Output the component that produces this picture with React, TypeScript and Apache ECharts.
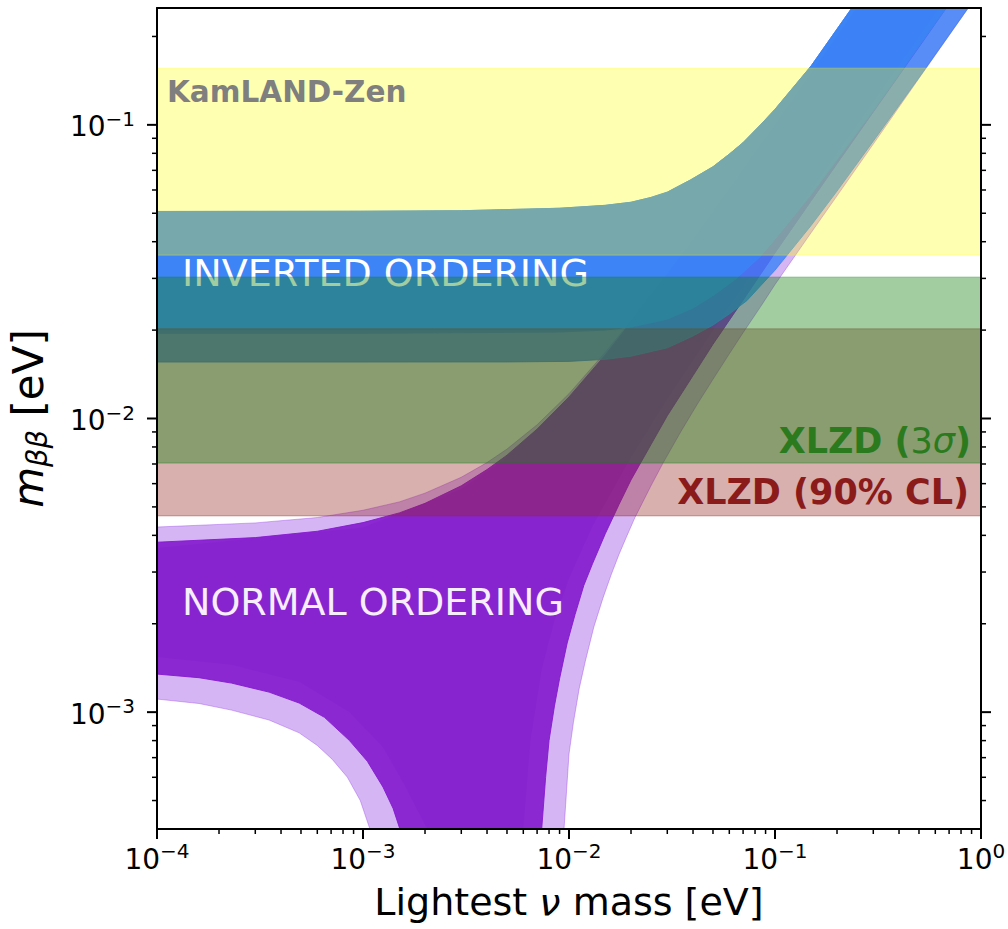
import React, { useEffect, useRef } from 'react';
import * as echarts from 'echarts';

const FONT = '"DejaVu Sans", "Liberation Sans", Arial, sans-serif';

// Axis limits (eV)
const X_MIN = 1e-4;
const X_MAX = 1;
const Y_MIN = 4e-4;
const Y_MAX = 0.25;
// m_bb value below the visible range, used where a band falls to zero (cancellation region)
const BELOW = 1e-4;

type Pt = [number, number];

// Tick positions
const X_MAJOR = [1e-4, 1e-3, 1e-2, 1e-1, 1];
const Y_MAJOR = [1e-3, 1e-2, 1e-1];
const MINOR_MULT = [2, 3, 4, 5, 6, 7, 8, 9];
const X_MINOR_DECADES = [1e-4, 1e-3, 1e-2, 1e-1];
const Y_MINOR_DECADES = [1e-4, 1e-3, 1e-2, 1e-1];

// Normal ordering, 3 sigma envelope: [lightest mass, m_bb] in eV
const NO_3S_UPPER: Pt[] = [
  [1e-4, 4.27e-3], [3e-4, 4.41e-3], [6e-4, 4.6e-3], [1e-3, 4.87e-3], [1.5e-3, 5.2e-3],
  [2e-3, 5.57e-3], [3e-3, 6.31e-3], [4e-3, 7.08e-3], [5e-3, 7.87e-3], [7e-3, 9.52e-3],
  [1e-2, 1.215e-2], [1.5e-2, 1.68e-2], [2e-2, 2.15e-2], [3e-2, 3.11e-2], [4e-2, 4.09e-2],
  [5e-2, 5.08e-2], [7e-2, 7.06e-2], [0.1, 0.1002], [0.2, 0.2], [1, 1],
];
const NO_3S_LOWER: Pt[] = [
  [1e-4, 1.108e-3], [1.6e-4, 1.07e-3], [2.3e-4, 1.016e-3], [3.5e-4, 9.4e-4], [4.9e-4, 8.5e-4],
  [6e-4, 7.7e-4], [7.1e-4, 6.9e-4], [8.4e-4, 6.0e-4], [9.7e-4, 5.0e-4], [1.08e-3, 4.0e-4],
  [1.4e-3, BELOW], [9.15e-3, BELOW], [9.46e-3, 4.0e-4], [1.0e-2, 7.2e-4], [1.05e-2, 9.2e-4],
  [1.12e-2, 1.2e-3], [1.2e-2, 1.49e-3], [1.32e-2, 1.95e-3], [1.46e-2, 2.44e-3], [1.6e-2, 2.93e-3],
  [1.75e-2, 3.45e-3], [1.9e-2, 3.95e-3], [2.09e-2, 4.6e-3], [2.5e-2, 5.9e-3], [2.86e-2, 7.05e-3],
  [3.5e-2, 9.05e-3], [4.2e-2, 1.12e-2], [5e-2, 1.36e-2], [6e-2, 1.66e-2], [7e-2, 1.96e-2],
  [8.5e-2, 2.4e-2], [0.1, 2.86e-2], [0.15, 4.3e-2], [0.2, 5.73e-2], [0.3, 8.6e-2],
  [0.5, 0.144], [1, 0.288],
];

// Normal ordering, 2 sigma band
const NO_2S_UPPER: Pt[] = [
  [1e-4, 3.79e-3], [3e-4, 3.93e-3], [6e-4, 4.13e-3], [1e-3, 4.42e-3], [1.5e-3, 4.77e-3],
  [2e-3, 5.14e-3], [3e-3, 5.9e-3], [4e-3, 6.7e-3], [5e-3, 7.5e-3], [7e-3, 9.2e-3],
  [1e-2, 1.184e-2], [1.5e-2, 1.646e-2], [2e-2, 2.128e-2], [3e-2, 3.097e-2], [4e-2, 4.08e-2],
  [5e-2, 5.054e-2], [7e-2, 7.05e-2], [0.1, 0.1003], [0.2, 0.2], [1, 1],
];
const NO_2S_LOWER: Pt[] = [
  [1e-4, 1.348e-3], [1.6e-4, 1.31e-3], [2.3e-4, 1.256e-3], [3.5e-4, 1.17e-3], [4.9e-4, 1.074e-3],
  [6.5e-4, 9.6e-4], [8.6e-4, 8.0e-4], [1.05e-3, 6.8e-4], [1.25e-3, 5.56e-4], [1.4e-3, 4.7e-4],
  [1.51e-3, 4.0e-4], [1.8e-3, BELOW], [6.9e-3, BELOW], [7.37e-3, 4.0e-4], [7.7e-3, 6.0e-4],
  [8e-3, 8.0e-4], [8.5e-3, 1.05e-3], [9e-3, 1.3e-3], [9.8e-3, 1.72e-3], [1.07e-2, 2.15e-3],
  [1.18e-2, 2.7e-3], [1.3e-2, 3.2e-3], [1.5e-2, 4.05e-3], [1.75e-2, 5.1e-3], [2e-2, 6.18e-3],
  [2.5e-2, 8.15e-3], [3e-2, 1.022e-2], [4e-2, 1.4e-2], [5e-2, 1.791e-2], [7e-2, 2.53e-2],
  [0.1, 3.664e-2], [0.15, 5.52e-2], [0.2, 7.37e-2], [0.3, 0.1106], [0.5, 0.184], [1, 0.369],
];

// Normal ordering, 1 sigma band (faint core inside the 2 sigma band)
const NO_1S_UPPER: Pt[] = [
  [1e-4, 3.62e-3], [1e-3, 4.25e-3], [3e-3, 5.75e-3], [5e-3, 7.35e-3], [1e-2, 1.17e-2],
  [2e-2, 2.11e-2], [3e-2, 3.08e-2], [0.1, 0.1], [1, 1],
];
const NO_1S_LOWER: Pt[] = [
  [1e-4, 1.54e-3], [2.3e-4, 1.45e-3], [4.9e-4, 1.27e-3], [8.6e-4, 1.0e-3], [1.25e-3, 7.6e-4],
  [1.6e-3, 5.6e-4], [2.05e-3, 4.0e-4], [2.4e-3, BELOW], [5.6e-3, BELOW], [6.0e-3, 4.0e-4],
  [6.5e-3, 8.0e-4], [7.37e-3, 1.4e-3], [8.5e-3, 2.05e-3], [1e-2, 2.85e-3], [1.3e-2, 4.3e-3],
  [2e-2, 7.4e-3], [3e-2, 1.17e-2], [5e-2, 2.0e-2], [0.1, 4.0e-2], [0.2, 8.0e-2], [1, 0.4],
];

// Inverted ordering, 3 sigma envelope
const IO_UPPER: Pt[] = [
  [1e-4, 5.07e-2], [1e-3, 5.08e-2], [3e-3, 5.1e-2], [9e-3, 5.2e-2], [1.5e-2, 5.32e-2],
  [2e-2, 5.45e-2], [2.5e-2, 5.66e-2], [3e-2, 5.9e-2], [3.9e-2, 6.5e-2], [5e-2, 7.2e-2],
  [6e-2, 7.95e-2], [7e-2, 8.7e-2], [8.5e-2, 0.1], [0.1, 0.113], [0.15, 0.159],
  [0.236, 0.25], [0.5, 0.505], [1, 1],
];
const IO_3S_LOWER: Pt[] = [
  [1e-4, 1.557e-2], [1e-3, 1.557e-2], [5e-3, 1.558e-2], [1e-2, 1.565e-2], [1.5e-2, 1.59e-2],
  [2e-2, 1.63e-2], [3e-2, 1.74e-2], [4e-2, 1.91e-2], [5e-2, 2.08e-2], [6e-2, 2.27e-2],
  [7.3e-2, 2.52e-2], [0.1, 3.2e-2], [0.15, 4.55e-2], [0.2, 5.95e-2], [0.3, 8.8e-2],
  [0.5, 0.1448], [0.865, 0.25], [1, 0.2887],
];
// Inverted ordering, 1 sigma lower edge
const IO_1S_LOWER: Pt[] = [
  [1e-4, 1.95e-2], [1e-3, 1.95e-2], [9e-3, 1.97e-2], [1.5e-2, 2.0e-2], [2e-2, 2.05e-2],
  [3e-2, 2.18e-2], [4e-2, 2.38e-2], [5e-2, 2.62e-2], [6.5e-2, 3.0e-2], [8.45e-2, 3.55e-2],
  [0.1, 4.08e-2], [0.15, 5.8e-2], [0.2, 7.61e-2], [0.3, 0.112], [0.5, 0.1856], [1, 0.369],
];

// Experimental ranges of m_bb [low, high] in eV
const KAMLAND_ZEN: [number, number] = [0.036, 0.156];
const XLZD_90CL: [number, number] = [0.00466, 0.0202];
const XLZD_3SIGMA: [number, number] = [0.00705, 0.0303];

const MINUS = '\u2212';

function powLabel(v: number): string {
  const l = Math.log10(v);
  const e = Math.round(l);
  if (Math.abs(l - e) > 1e-6) return '';
  return `{b|10}{s|${e < 0 ? MINUS + String(-e) : String(e)}}`;
}

const TICK_RICH = {
  b: { fontSize: 28, fontFamily: FONT, color: '#000', lineHeight: 32, verticalAlign: 'bottom' },
  s: { fontSize: 20, fontFamily: FONT, color: '#000', lineHeight: 22, verticalAlign: 'top' },
};

function bandSeries(name: string, upper: Pt[], lower: Pt[], fill: string, z: number, edge = true) {
  return {
    type: 'custom',
    name,
    coordinateSystem: 'cartesian2d',
    xAxisIndex: 0,
    yAxisIndex: 0,
    clip: true,
    silent: true,
    z,
    data: [[1e-2, 1e-2]],
    encode: { x: 0, y: 1 },
    renderItem: (_params: any, api: any) => {
      const pts: number[][] = [];
      for (const p of upper) pts.push(api.coord(p));
      for (let i = lower.length - 1; i >= 0; i--) pts.push(api.coord(lower[i]));
      return {
        type: 'polygon',
        shape: { points: pts },
        style: edge ? { fill, stroke: fill, lineWidth: 1 } : { fill },
      };
    },
  };
}

function hBand(name: string, range: [number, number], fill: string, z: number) {
  const upper: Pt[] = [[X_MIN, range[1]], [X_MAX, range[1]]];
  const lower: Pt[] = [[X_MIN, range[0]], [X_MAX, range[0]]];
  return bandSeries(name, upper, lower, fill, z);
}

function tickSeries() {
  const xMinor: number[] = [];
  for (const d of X_MINOR_DECADES) for (const k of MINOR_MULT) xMinor.push(k * d);
  const yMinor: number[] = [];
  for (const d of Y_MINOR_DECADES)
    for (const k of MINOR_MULT) {
      const v = k * d;
      if (v > Y_MIN * 1.001 && v < Y_MAX) yMinor.push(v);
    }
  return {
    type: 'custom',
    name: 'ticks',
    coordinateSystem: 'cartesian2d',
    clip: false,
    silent: true,
    z: 12,
    data: [[1e-2, 1e-2]],
    encode: { x: 0, y: 1 },
    renderItem: (_params: any, api: any) => {
      const children: any[] = [];
      const seg = (x1: number, y1: number, x2: number, y2: number, w: number) =>
        children.push({
          type: 'line',
          shape: { x1, y1, x2, y2 },
          style: { stroke: '#000', lineWidth: w },
        });
      const MAJ = 10;
      const MIN = 5;
      for (const v of X_MAJOR) {
        const [px, py] = api.coord([v, Y_MIN]);
        seg(px, py, px, py + MAJ, 2);
      }
      for (const v of xMinor) {
        const [px, py] = api.coord([v, Y_MIN]);
        seg(px, py, px, py + MIN, 1.5);
      }
      for (const v of Y_MAJOR) {
        const [lx, py] = api.coord([X_MIN, v]);
        const [rx] = api.coord([X_MAX, v]);
        seg(lx, py, lx - MAJ, py, 2);
        seg(rx, py, rx + MAJ, py, 2);
      }
      for (const v of yMinor) {
        const [lx, py] = api.coord([X_MIN, v]);
        const [rx] = api.coord([X_MAX, v]);
        seg(lx, py, lx - MIN, py, 1.5);
        seg(rx, py, rx + MIN, py, 1.5);
      }
      return { type: 'group', children };
    },
  };
}

function textEl(
  text: string,
  x: number,
  y: number,
  align: string,
  z: number,
  style: Record<string, any>,
) {
  return {
    type: 'text',
    x,
    y,
    z,
    silent: true,
    style: {
      text,
      align,
      verticalAlign: 'middle',
      textAlign: align,
      textVerticalAlign: 'middle',
      fontFamily: FONT,
      ...style,
    },
  };
}

function buildOption() {
  const spine = { show: true, onZero: false, lineStyle: { color: '#000', width: 2 } };
  const plain = {
    type: 'log',
    logBase: 10,
    z: 12,
    axisTick: { show: false },
    minorTick: { show: false },
    splitLine: { show: false },
    minorSplitLine: { show: false },
  };
  return {
    animation: false,
    backgroundColor: '#ffffff',
    grid: { left: 157, top: 8, width: 824, height: 821, containLabel: false, outerBoundsMode: 'none' },
    xAxis: [
      {
        ...plain,
        min: X_MIN,
        max: X_MAX,
        position: 'bottom',
        axisLine: spine,
        axisLabel: { margin: 12, formatter: powLabel, rich: TICK_RICH },
        name: '{t|Lightest }{i|\u03bd}{t| mass [eV]}',
        nameLocation: 'middle',
        nameGap: 54,
        nameMoveOverlap: false,
        nameTextStyle: {
          rich: {
            t: { fontSize: 38, fontFamily: FONT, color: '#000' },
            i: { fontSize: 38, fontFamily: FONT, fontStyle: 'italic', color: '#000' },
          },
        },
      },
      {
        ...plain,
        min: X_MIN,
        max: X_MAX,
        position: 'top',
        axisLine: spine,
        axisLabel: { show: false },
      },
    ],
    yAxis: [
      {
        ...plain,
        min: Y_MIN,
        max: Y_MAX,
        position: 'left',
        axisLine: spine,
        axisLabel: { margin: 22, formatter: powLabel, rich: TICK_RICH },
        name: '{i|m}{sub|\u03b2\u03b2}{t| [eV]}',
        nameLocation: 'middle',
        nameRotate: 90,
        nameGap: 106,
        nameMoveOverlap: false,
        nameTextStyle: {
          rich: {
            i: { fontSize: 42, fontFamily: FONT, fontStyle: 'italic', color: '#000', lineHeight: 44, verticalAlign: 'top' },
            sub: {
              fontSize: 29, fontFamily: FONT, fontStyle: 'italic', color: '#000',
              lineHeight: 29, padding: [22, 0, 0, 0], verticalAlign: 'bottom',
            },
            t: { fontSize: 42, fontFamily: FONT, color: '#000', lineHeight: 44, verticalAlign: 'top' },
          },
        },
      },
      {
        ...plain,
        min: Y_MIN,
        max: Y_MAX,
        position: 'right',
        axisLine: spine,
        axisLabel: { show: false },
      },
    ],
    series: [
      bandSeries('NO 3σ', NO_3S_UPPER, NO_3S_LOWER, 'rgba(138,43,226,0.35)', 2),
      bandSeries('NO 2σ', NO_2S_UPPER, NO_2S_LOWER, 'rgba(132,24,206,0.9)', 3),
      bandSeries('NO 1σ', NO_1S_UPPER, NO_1S_LOWER, 'rgba(110,10,190,0.1)', 3.5, false),
      bandSeries('IO 3σ', IO_UPPER, IO_3S_LOWER, 'rgba(60,131,246,0.82)', 4),
      bandSeries('IO 1σ', IO_UPPER, IO_1S_LOWER, 'rgba(60,131,246,0.97)', 5),
      hBand('KamLAND-Zen', KAMLAND_ZEN, 'rgba(255,255,0,0.3)', 7),
      hBand('XLZD 90% CL', XLZD_90CL, 'rgba(150,40,35,0.37)', 8),
      hBand('XLZD 3σ', XLZD_3SIGMA, 'rgba(20,130,20,0.4)', 9),
      tickSeries(),
    ],
    graphic: {
      elements: [
        textEl('INVERTED ORDERING', 182, 273, 'left', 6, { fill: '#ffffff', fontSize: 38 }),
        textEl('KamLAND-Zen', 167, 92, 'left', 10, { fill: '#7f7f7f', fontSize: 29.5, fontWeight: 'bold' }),
        textEl('NORMAL ORDERING', 182, 602, 'left', 10, { fill: '#f6eefb', fontSize: 38 }),
        textEl('{b|XLZD (}{n|3}{i|\u03c3}{b|)}', 971, 441, 'right', 10, {
          rich: {
            b: { fontSize: 35, fontWeight: 'bold', fontFamily: FONT, fill: '#2b7a1d', color: '#2b7a1d' },
            n: { fontSize: 35, fontFamily: FONT, fill: '#2b7a1d', color: '#2b7a1d' },
            i: { fontSize: 35, fontStyle: 'italic', fontFamily: FONT, fill: '#2b7a1d', color: '#2b7a1d' },
          },
        }),
        textEl('XLZD (90% CL)', 969, 492, 'right', 10, { fill: '#8b1a1a', fontSize: 35, fontWeight: 'bold' }),
      ],
    },
  };
}

export default function App() {
  const ref = useRef<HTMLDivElement | null>(null);
  useEffect(() => {
    if (!ref.current) return;
    const chart = echarts.init(ref.current, undefined, { renderer: 'svg' });
    chart.setOption(buildOption() as any);
    return () => chart.dispose();
  }, []);
  return (
    <div
      ref={ref}
      style={{ position: 'fixed', left: 0, top: 0, width: 1008, height: 929, background: '#ffffff' }}
    />
  );
}
